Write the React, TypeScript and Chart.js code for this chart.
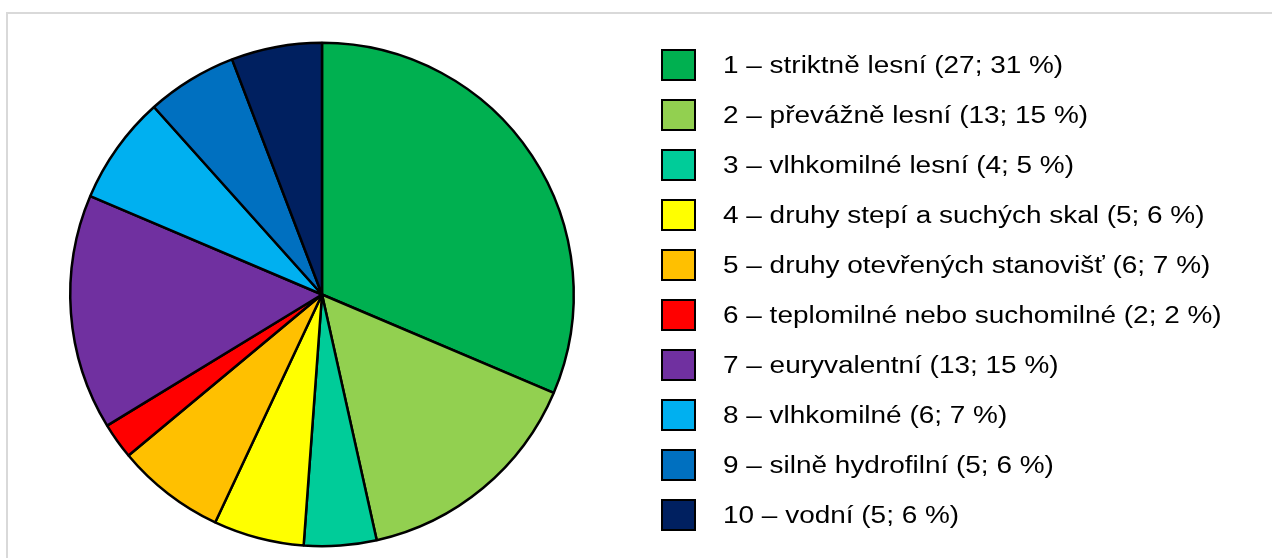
import React, { useEffect, useRef } from "react";
import { Chart, registerables } from "chart.js";

Chart.register(...registerables);

const categories: string[] = [
  "1 – striktně lesní",
  "2 – převážně lesní",
  "3 – vlhkomilné lesní",
  "4 – druhy stepí a suchých skal",
  "5 – druhy otevřených stanovišť",
  "6 – teplomilné nebo suchomilné",
  "7 – euryvalentní",
  "8 – vlhkomilné",
  "9 – silně hydrofilní",
  "10 – vodní",
];

const counts: number[] = [27, 13, 4, 5, 6, 2, 13, 6, 5, 5];
const percents: number[] = [31, 15, 5, 6, 7, 2, 15, 7, 6, 6];

const colors: string[] = [
  "#00B050",
  "#92D050",
  "#00CC99",
  "#FFFF00",
  "#FFC000",
  "#FF0000",
  "#7030A0",
  "#00B0F0",
  "#0070C0",
  "#002060",
];

const legendLabels: string[] = categories.map(
  (c, i) => `${c} (${counts[i]}; ${percents[i]} %)`
);

export default function App() {
  const canvasRef = useRef<HTMLCanvasElement | null>(null);

  useEffect(() => {
    if (!canvasRef.current) return;
    const chart = new Chart(canvasRef.current, {
      type: "pie",
      data: {
        labels: legendLabels,
        datasets: [
          {
            data: counts,
            backgroundColor: colors,
            borderColor: "#000000",
            borderWidth: 2.5,
          },
        ],
      },
      options: {
        animation: false,
        responsive: false,
        maintainAspectRatio: false,
        layout: {
          padding: { left: 69, top: 41.5, right: 697, bottom: 10.5 },
        },
        plugins: {
          legend: { display: false },
          tooltip: { enabled: false },
          title: { display: false },
        },
      },
    });
    return () => chart.destroy();
  }, []);

  return (
    <div
      style={{
        position: "fixed",
        left: 0,
        top: 0,
        width: 1272,
        height: 558,
        overflow: "hidden",
        background: "#ffffff",
      }}
    >
      <div
        style={{
          position: "absolute",
          left: 6,
          top: 12,
          width: 1400,
          height: 700,
          borderTop: "2px solid #d9d9d9",
          borderLeft: "2px solid #d9d9d9",
          boxSizing: "border-box",
        }}
      />
      <canvas
        ref={canvasRef}
        width={1272}
        height={558}
        style={{ position: "absolute", left: 0, top: 0, width: 1272, height: 558 }}
      />
      {legendLabels.map((label, i) => (
        <div
          key={i}
          style={{
            position: "absolute",
            left: 661,
            top: 48.5 + i * 50,
            height: 32,
            display: "flex",
            alignItems: "center",
            whiteSpace: "nowrap",
          }}
        >
          <div
            style={{
              width: 35,
              height: 32,
              boxSizing: "border-box",
              border: "2px solid #000",
              background: colors[i],
              flex: "0 0 auto",
            }}
          />
          <span
            style={{
              marginLeft: 27,
              fontFamily: '"Liberation Sans", Arial, sans-serif',
              fontSize: 23,
              lineHeight: "32px",
              color: "#000",
              display: "inline-block",
              transform: "scaleX(1.215)",
              transformOrigin: "left center",
            }}
          >
            {label}
          </span>
        </div>
      ))}
    </div>
  );
}
